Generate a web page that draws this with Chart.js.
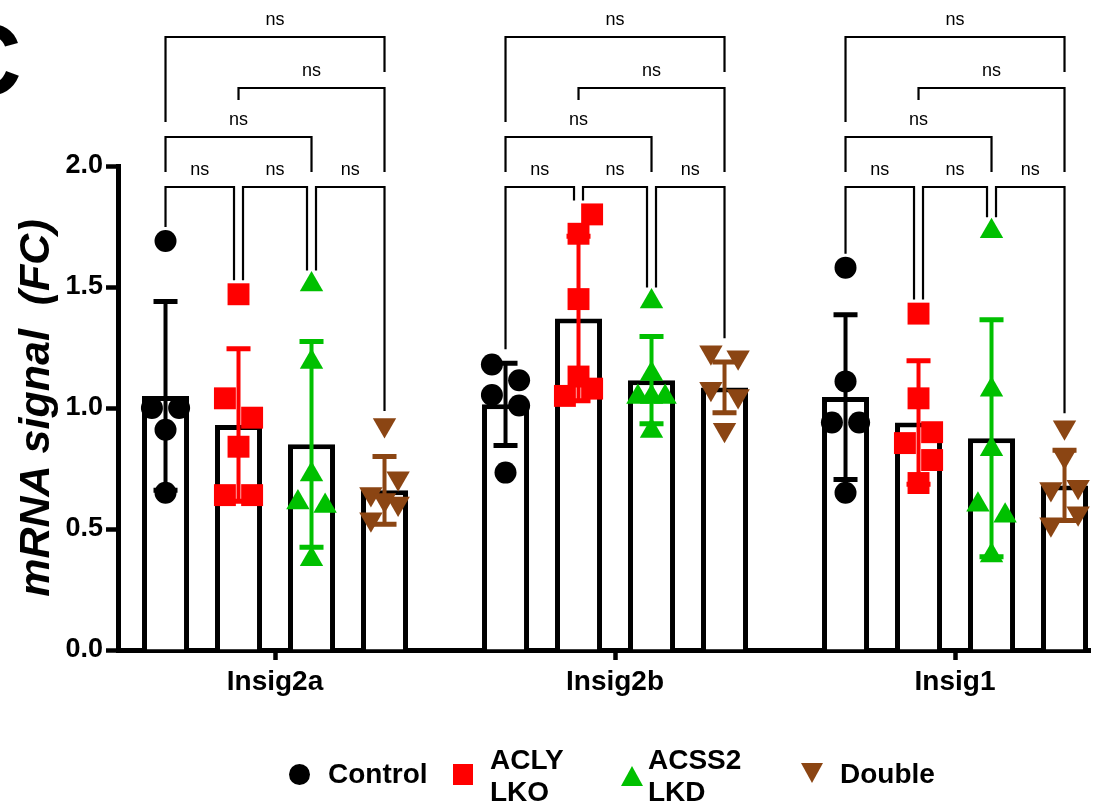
<!DOCTYPE html>
<html>
<head>
<meta charset="utf-8">
<script src="https://cdn.jsdelivr.net/npm/chart.js@4.4.1/dist/chart.umd.min.js"></script>
<style>
  html, body { margin: 0; padding: 0; background: #fff; overflow: hidden; }
  #wrap { position: relative; width: 1120px; height: 810px; font-family: Arial, "Liberation Sans", Helvetica, sans-serif; color: #000; }
  #chart { position: absolute; left: 0; top: 0; }
  .panel { position: absolute; left: -52px; top: 9px; font-weight: bold; font-size: 102px; line-height: 102px; }
  .lg { position: absolute; font-weight: bold; font-size: 28px; line-height: 32px; white-space: nowrap; }
  .mk { position: absolute; }
</style>
</head>
<body>
<div id="wrap">
  <canvas id="chart" width="1120" height="810"></canvas>
  <div class="panel">C</div>
  <div class="mk" style="left:289px;top:764px;width:21px;height:21px;border-radius:50%;background:#000;"></div>
  <div class="lg" style="left:328px;top:758px;">Control</div>
  <div class="mk" style="left:453px;top:764px;width:20px;height:21px;background:#FF0000;"></div>
  <div class="lg" style="left:490px;top:744px;">ACLY<br>LKO</div>
  <div class="mk" style="left:621px;top:766px;width:0;height:0;border-left:11px solid transparent;border-right:11px solid transparent;border-bottom:20px solid #00C000;"></div>
  <div class="lg" style="left:648px;top:744px;">ACSS2<br>LKD</div>
  <div class="mk" style="left:801px;top:763px;width:0;height:0;border-left:11px solid transparent;border-right:11px solid transparent;border-top:20px solid #8B4513;"></div>
  <div class="lg" style="left:840px;top:758px;">Double</div>
</div>
<script>
// ---------- data ----------
const categories = ['Insig2a', 'Insig2b', 'Insig1'];
const seriesNames = ['Control', 'ACLY LKO', 'ACSS2 LKD', 'Double'];
const yTickValues = [0, 0.5, 1.0, 1.5, 2.0];

const controlMean = [1.05, 1.015, 1.045];
const controlSD   = [0.39, 0.17, 0.34];
const aclyMean    = [0.93, 1.37, 0.94];
const aclySD      = [0.315, 0.34, 0.255];
const acss2Mean   = [0.85, 1.115, 0.875];
const acss2SD     = [0.425, 0.18, 0.49];
const doubleMean  = [0.66, 1.085, 0.68];
const doubleSD    = [0.14, 0.105, 0.145];

const controlPoints = [[1.69, 1.00, 1.00, 0.91, 0.65], [1.18, 1.115, 1.054, 1.01, 0.733], [1.58, 1.11, 0.94, 0.94, 0.65]];
const aclyPoints    = [[1.47, 1.04, 0.96, 0.84, 0.64, 0.64], [1.80, 1.72, 1.45, 1.13, 1.05, 1.08], [1.39, 1.04, 0.90, 0.855, 0.785, 0.69]];
const acss2Points   = [[1.51, 1.19, 0.725, 0.61, 0.595, 0.375], [1.44, 1.14, 1.045, 1.045, 1.045, 0.905], [1.73, 1.075, 0.83, 0.60, 0.555, 0.39]];
const doublePoints  = [[0.93, 0.71, 0.645, 0.62, 0.605, 0.54], [1.23, 1.21, 1.08, 1.05, 0.91], [0.92, 0.80, 0.665, 0.675, 0.565, 0.52]];

// which side of the bar each point sits on (-1 left, 0 centre, 1 right)
const controlSide = [[0, -1, 1, 0, 0], [-1, 1, -1, 1, 0], [0, 0, -1, 1, 0]];
const aclySide    = [[0, -1, 1, 0, -1, 1], [1, 0, 0, 0, -1, 1], [0, 0, 1, -1, 1, 0]];
const acss2Side   = [[0, 0, 0, -1, 1, 0], [0, 0, -1, 0, 1, 0], [0, 0, 0, -1, 1, 0]];
const doubleSide  = [[0, 1, -1, 0, 1, -1], [-1, 1, -1, 1, 0], [0, 0, -1, 1, 1, -1]];

// ---------- styling ----------
const FONT = 'Arial, "Liberation Sans", Helvetica, sans-serif';
const colors = ['#000000', '#FF0000', '#00C000', '#8B4513'];
const CP = 0.8588, BP = 0.644, SPREAD = 0.04;
const XMIN = -0.4618, XMAX = 2.397;

const means = [controlMean, aclyMean, acss2Mean, doubleMean];
const sds = [controlSD, aclySD, acss2SD, doubleSD];
const points = [controlPoints, aclyPoints, acss2Points, doublePoints];
const sides = [controlSide, aclySide, acss2Side, doubleSide];
const pStyles = ['circle', 'rect', 'triangle', 'triangle'];
const pRadius = [11, 15.5, 13.5, 13.5];
const pRot = [0, 0, 0, 180];

const barDatasets = means.map((m, s) => ({
  type: 'bar',
  label: seriesNames[s],
  data: m.map((v, g) => ({ x: g, y: v })),
  backgroundColor: '#ffffff',
  borderColor: '#000000',
  borderWidth: 5,
  categoryPercentage: CP,
  barPercentage: BP,
  order: 2
}));

const pointDatasets = points.map((arr, s) => ({
  type: 'scatter',
  label: seriesNames[s] + ' points',
  data: arr.flatMap((vals, g) => vals.map((v, k) => ({ x: g + (s - 1.5) * CP / 4 + sides[s][g][k] * SPREAD, y: v }))),
  pointStyle: pStyles[s],
  pointRadius: pRadius[s],
  pointRotation: pRot[s],
  backgroundColor: colors[s],
  borderColor: colors[s],
  borderWidth: 0,
  order: 1
}));

const errorBarPlugin = {
  id: 'errorBars',
  afterDatasetDraw(chart, args) {
    const s = args.index;
    if (s > 3) return;
    const ctx = chart.ctx, ys = chart.scales.y;
    ctx.save();
    ctx.strokeStyle = colors[s];
    args.meta.data.forEach((el, g) => {
      const yt = ys.getPixelForValue(means[s][g] + sds[s][g]);
      const yb = ys.getPixelForValue(means[s][g] - sds[s][g]);
      ctx.lineWidth = 4;
      ctx.beginPath(); ctx.moveTo(el.x, yt); ctx.lineTo(el.x, yb); ctx.stroke();
      ctx.lineWidth = 5;
      ctx.beginPath();
      ctx.moveTo(el.x - 12, yt); ctx.lineTo(el.x + 12, yt);
      ctx.moveTo(el.x - 12, yb); ctx.lineTo(el.x + 12, yb);
      ctx.stroke();
    });
    ctx.restore();
  }
};

const bracketPlugin = {
  id: 'brackets',
  afterDraw(chart) {
    const ctx = chart.ctx, ys = chart.scales.y, top = chart.chartArea.top;
    const T1 = top + 21, T2 = top - 29, T3 = top - 78, T4 = top - 129;
    ctx.save();
    ctx.strokeStyle = '#000'; ctx.fillStyle = '#000';
    ctx.lineWidth = 2.2;
    ctx.font = '18px ' + FONT;
    ctx.textAlign = 'center'; ctx.textBaseline = 'middle';
    const bracket = (x1, x2, y, e1, e2) => {
      ctx.beginPath(); ctx.moveTo(x1, e1); ctx.lineTo(x1, y); ctx.lineTo(x2, y); ctx.lineTo(x2, e2); ctx.stroke();
      ctx.fillText('ns', (x1 + x2) / 2, y - 17);
    };
    for (let g = 0; g < categories.length; g++) {
      const cx = [0, 1, 2, 3].map(s => chart.getDatasetMeta(s).data[g].x);
      const end = s => ys.getPixelForValue(Math.max(...points[s][g], means[s][g] + sds[s][g])) - 14;
      bracket(cx[0], cx[1] - 4.5, T1, end(0), end(1));
      bracket(cx[1] + 4.5, cx[2] - 4.5, T1, end(1), end(2));
      bracket(cx[2] + 4.5, cx[3], T1, end(2), end(3));
      bracket(cx[0], cx[2], T2, T1 - 15, T1 - 15);
      bracket(cx[1], cx[3], T3, T3 + 12, T1 - 15);
      bracket(cx[0], cx[3], T4, T2 - 15, T3 - 16);
    }
    ctx.restore();
  }
};

new Chart(document.getElementById('chart'), {
  type: 'bar',
  data: { datasets: [...barDatasets, ...pointDatasets] },
  options: {
    responsive: false,
    animation: false,
    events: [],
    layout: { padding: { top: 166, bottom: 100, left: 0, right: 30 } },
    plugins: { legend: { display: false }, tooltip: { enabled: false } },
    scales: {
      x: {
        type: 'linear',
        min: XMIN, max: XMAX,
        offset: false,
        bounds: 'data',
        afterBuildTicks: sc => { sc.ticks = categories.map((c, i) => ({ value: i })); },
        afterFit: sc => { sc.height = 60; },
        ticks: {
          callback: v => categories[Math.round(v)],
          font: { family: FONT, size: 28, weight: 'bold' },
          color: '#000', padding: 5, maxRotation: 0, autoSkip: false
        },
        grid: { display: true, drawOnChartArea: false, drawTicks: true, tickLength: 10, tickWidth: 4.5, tickColor: '#000', offset: false },
        border: { display: true, color: '#000', width: 5 }
      },
      y: {
        min: 0, max: 2,
        afterBuildTicks: sc => { sc.ticks = yTickValues.map(v => ({ value: v })); },
        afterFit: sc => { sc.width = 118; },
        ticks: {
          callback: v => Number(v).toFixed(1),
          font: { family: FONT, size: 27, weight: 'bold' },
          color: '#000', padding: 3
        },
        grid: { drawOnChartArea: false, tickLength: 12, tickWidth: 4.5, tickColor: '#000' },
        border: { display: true, color: '#000', width: 5 },
        title: {
          display: true, text: 'mRNA signal  (FC)', color: '#000',
          font: { family: FONT, size: 43, weight: 'bold', style: 'italic' },
          padding: { top: 11, bottom: 0 }
        }
      }
    }
  },
  plugins: [errorBarPlugin, bracketPlugin]
});
</script>
</body>
</html>
